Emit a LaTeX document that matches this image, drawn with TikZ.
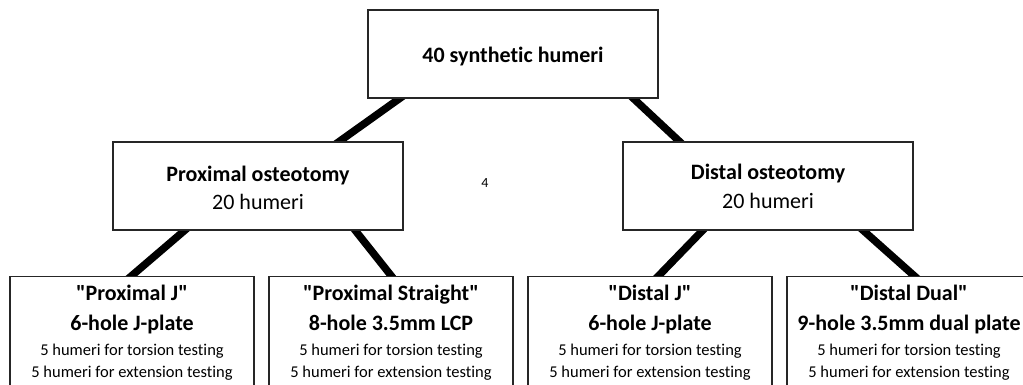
\documentclass[tikz,border=0pt]{standalone}
\usepackage{fontspec}
\setmainfont{Carlito}[Ligatures={NoCommon}]
\usetikzlibrary{calc,backgrounds}
\begin{document}
\begin{tikzpicture}[x=1pt,y=-1pt,
  box/.style={draw=black!85,line width=1.2pt,fill=white,rectangle,inner sep=0pt},
  midbox/.style={box,minimum width=290pt,minimum height=88pt},
  leafbox/.style={box,minimum width=244pt,minimum height=124pt,anchor=north},
  link/.style={line width=7.5pt,black,shorten <=-5pt,shorten >=-5pt},
  big/.style={font=\fontsize{22}{24}\selectfont\bfseries,anchor=base,inner sep=0pt},
  reg/.style={font=\fontsize{22}{24}\selectfont,anchor=base,inner sep=0pt},
  small/.style={font=\fontsize{16.5}{18}\selectfont,anchor=base,inner sep=0pt}]
\useasboundingbox (0,0) rectangle (1023,384);
% boxes
\node[midbox] (top) at (513,54) {};
\node[midbox] (prox) at (258,186) {};
\node[midbox] (dist) at (768,186) {};
\node[leafbox] (pj) at (132,276) {};
\node[leafbox] (ps) at (391,276) {};
\node[leafbox] (dj) at (650,276) {};
\node[leafbox] (dd) at (909,276) {};
% connectors
\begin{scope}[on background layer]
\draw[link] ($(top.south west)+(32,0)$) -- ($(prox.north west)+(227,0)$);
\draw[link] ($(top.south east)+(-25,0)$) -- ($(dist.north west)+(57,0)$);
\draw[link] ($(prox.south west)+(72,0)$) -- ($(pj.north west)+(122,0)$);
\draw[link] ($(prox.south west)+(243,0)$) -- ($(ps.north west)+(123,0)$);
\draw[link] ($(dist.south west)+(80,0)$) -- ($(dj.north west)+(131,0)$);
\draw[link] ($(dist.south west)+(241,0)$) -- ($(dd.north west)+(128,0)$);
\end{scope}
% texts
\node[big] (t0) at ($(top.north)+(0,53)$) {40 synthetic humeri};
\node[big] (t1) at ($(prox.north)+(0,40)$) {Proximal osteotomy};
\node[reg] (t2) at ($(prox.north)+(0,68)$) {20 humeri};
\node[big] (t3) at ($(dist.north)+(0,38)$) {Distal osteotomy};
\node[reg] (t4) at ($(dist.north)+(0,67)$) {20 humeri};
\node[font=\fontsize{14}{16}\selectfont,inner sep=0pt] (four) at (485,183) {4};
\foreach \b/\n/\p in {pj/Proximal J/6-hole J-plate, ps/Proximal Straight/8-hole 3.5mm LCP, dj/Distal J/6-hole J-plate, dd/Distal Dual/9-hole 3.5mm dual plate}{
  \node[big] (\b a) at ($(\b.north)+(0,24)$) {\textquotedbl\n\textquotedbl};
  \node[big] (\b b) at ($(\b.north)+(0,54)$) {\p};
  \node[small] (\b c) at ($(\b.north)+(0,79)$) {5 humeri for torsion testing};
  \node[small] (\b d) at ($(\b.north)+(0,101)$) {5 humeri for extension testing};
}
\end{tikzpicture}
\end{document}
